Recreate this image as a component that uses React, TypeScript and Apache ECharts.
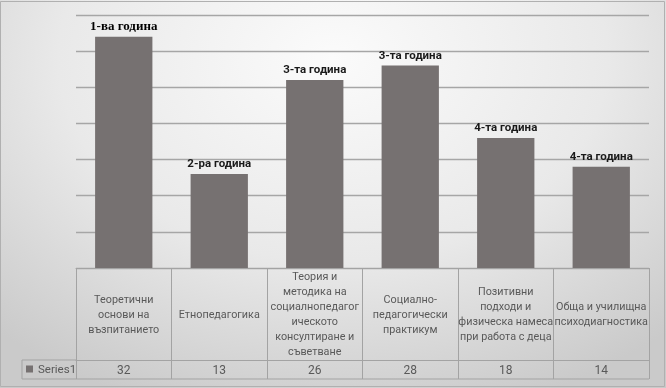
import React, { useEffect, useRef } from "react";
import * as echarts from "echarts";

const categories: string[] = [
  "Теоретични\nоснови на\nвъзпитанието",
  "Етнопедагогика",
  "Теория и\nметодика на\nсоциалнопедагог\nическото\nконсултиране и\nсъветване",
  "Социално-\nпедагогически\nпрактикум",
  "Позитивни\nподходи и\nфизическа намеса\nпри работа с деца",
  "Обща и училищна\nпсиходиагностика",
];
const values: number[] = [32, 13, 26, 28, 18, 14];
const yearLabels: string[] = [
  "1-ва година",
  "2-ра година",
  "3-та година",
  "3-та година",
  "4-та година",
  "4-та година",
];
const seriesName = "Series1";

const GRID_LEFT = 76;
const GRID_RIGHT_X = 649;
const AXIS_Y = 268;
const ROW1_H = 92;
const ROW2_H = 19;
const TABLE_LEFT = 22;
const LINE_COLOR = "#a3a3a3";
const TEXT_COLOR = "#595959";

export default function App() {
  const ref = useRef<HTMLDivElement>(null);
  useEffect(() => {
    if (!ref.current) return;
    const chart = echarts.init(ref.current, undefined, { renderer: "svg" });
    const seriesData = values.map((v, i) => ({
      value: v,
      label: {
        formatter: yearLabels[i],
        fontFamily: i === 0 ? "Liberation Serif" : "Roboto",
        fontSize: i === 0 ? 13 : 11.5,
        color: i === 0 ? "#000000" : "#1a1a1a",
      },
    }));
    chart.setOption({
      animation: false,
      backgroundColor: "transparent",
      grid: {
        left: GRID_LEFT,
        right: 666 - GRID_RIGHT_X,
        top: 15,
        bottom: 388 - AXIS_Y,
        containLabel: false,
        show: false,
      },
      legend: {
        data: [seriesName],
        left: TABLE_LEFT + 4,
        top: AXIS_Y + ROW1_H + 3,
        icon: "rect",
        itemWidth: 7,
        itemHeight: 7,
        itemGap: 4,
        padding: 0,
        textStyle: { fontSize: 11.5, color: TEXT_COLOR, fontFamily: "Roboto" },
      },
      xAxis: [
        {
          type: "category",
          data: categories,
          position: "bottom",
          splitLine: { show: false },
          splitArea: { show: false },
          axisLine: { show: true, lineStyle: { color: LINE_COLOR, width: 1 } },
          axisTick: {
            show: true,
            length: ROW1_H,
            inside: false,
            lineStyle: { color: LINE_COLOR, width: 1 },
          },
          axisLabel: {
            interval: 0,
            margin: ROW1_H / 2,
            verticalAlign: "middle",
            align: "center",
            lineHeight: 15,
            fontSize: 10.8,
            color: TEXT_COLOR,
            fontFamily: "Roboto",
            hideOverlap: false,
          },
        },
        {
          type: "category",
          data: values.map((v) => String(v)),
          position: "bottom",
          offset: ROW1_H,
          splitLine: { show: false },
          splitArea: { show: false },
          axisLine: { show: true, lineStyle: { color: LINE_COLOR, width: 1 } },
          axisTick: {
            show: true,
            length: ROW2_H,
            inside: false,
            lineStyle: { color: LINE_COLOR, width: 1 },
          },
          axisLabel: {
            interval: 0,
            margin: ROW2_H / 2,
            verticalAlign: "middle",
            align: "center",
            fontSize: 12,
            color: TEXT_COLOR,
            fontFamily: "Roboto",
          },
        },
      ],
      yAxis: {
        type: "value",
        min: 0,
        max: 35,
        interval: 5,
        axisLabel: { show: false },
        axisLine: { show: false },
        axisTick: { show: false },
        splitArea: { show: false },
        splitLine: {
          show: true,
          lineStyle: { color: "#a6a6a6", width: 1.3, type: "solid" },
        },
      },
      series: [
        {
          name: seriesName,
          type: "bar",
          xAxisIndex: 0,
          data: seriesData,
          barCategoryGap: "40%",
          itemStyle: { color: "#767171" },
          label: {
            show: true,
            position: "top",
            distance: 5,
            fontWeight: "bold",
          },
        },
      ],
      graphic: [
        {
          type: "rect",
          shape: { x: 0.5, y: 1.5, width: 664, height: 385 },
          style: { fill: "none", stroke: "#b0b0b0", lineWidth: 1 },
          silent: true,
        },
        {
          type: "line",
          shape: { x1: TABLE_LEFT, y1: AXIS_Y + ROW1_H, x2: GRID_LEFT, y2: AXIS_Y + ROW1_H },
          style: { stroke: LINE_COLOR, lineWidth: 1 },
          silent: true,
        },
        {
          type: "line",
          shape: {
            x1: TABLE_LEFT,
            y1: AXIS_Y + ROW1_H + ROW2_H,
            x2: GRID_RIGHT_X,
            y2: AXIS_Y + ROW1_H + ROW2_H,
          },
          style: { stroke: LINE_COLOR, lineWidth: 1 },
          silent: true,
        },
        {
          type: "line",
          shape: {
            x1: TABLE_LEFT,
            y1: AXIS_Y + ROW1_H,
            x2: TABLE_LEFT,
            y2: AXIS_Y + ROW1_H + ROW2_H,
          },
          style: { stroke: LINE_COLOR, lineWidth: 1 },
          silent: true,
        },
      ],
    });
    return () => chart.dispose();
  }, []);
  return (
    <div
      ref={ref}
      style={{
        position: "fixed",
        left: 0,
        top: 0,
        width: 666,
        height: 388,
        background:
          "radial-gradient(ellipse 75% 95% at 50% 15%, #fbfbfb 0%, #e9e9e9 55%, #cacaca 100%)",
      }}
    />
  );
}
